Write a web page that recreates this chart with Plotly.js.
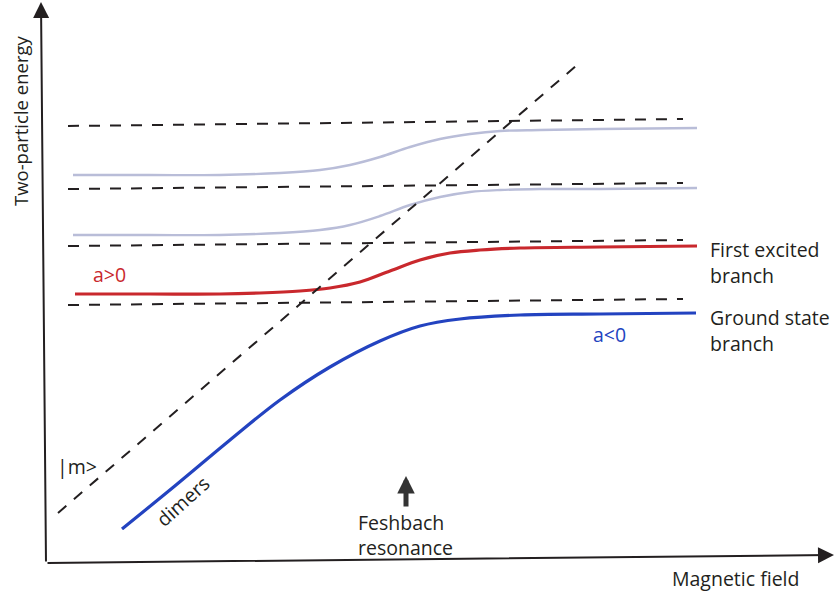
<!DOCTYPE html>
<html>
<head>
<meta charset="utf-8">
<script src="https://cdn.plot.ly/plotly-3.0.1.min.js"></script>
<style>
  html, body { margin: 0; padding: 0; background: #fff; }
  #chart { width: 836px; height: 592px; }
</style>
</head>
<body>
<div id="chart"></div>
<script>
// Schematic two-particle spectrum across a Feshbach resonance.
// Horizontal axis: magnetic field (arb. units), vertical axis: energy (arb. units).

// Unperturbed (non-interacting) trap levels, dashed: field at the two ends, energy at the two ends
const levelField = [68, 683];
const level1 = [287, 293];
const level2 = [346, 352];
const level3 = [403, 409];
const level4 = [466, 473];

// Bare molecular state |m>, dashed diagonal
const molField = [58, 577];
const molEnergy = [79, 527];

// Higher excited branches (grey)
const upperField = [73, 150, 220, 280, 320, 350, 380, 410, 440, 470, 500, 540, 600, 697];
const thirdBranch = [357, 357, 357, 359, 362, 367, 376, 387, 395, 400, 402, 403, 403, 404];
const fourthBranch = [417, 417, 417, 419, 422, 427, 435, 445, 453, 458, 461, 462, 463, 464];

// First excited branch (red)
const firstField = [75, 150, 220, 260, 300, 330, 360, 390, 420, 450, 480, 520, 600, 697];
const firstEnergy = [298, 298, 298, 299, 301, 304, 310, 321, 332, 339, 342, 344, 345, 346];

// Ground state branch (blue), dimers on the left
const groundField = [122, 176, 230, 280, 330, 380, 420, 460, 520, 600, 696];
const groundEnergy = [63, 107, 152, 192, 225, 251, 266, 273, 277, 278, 279];

const ink = '#231f20';
const dashStyle = '11px,10px';
const font = 'Open Sans, sans-serif';

function dashed(x, y) {
  return { x: x, y: y, mode: 'lines', type: 'scatter', hoverinfo: 'skip',
           line: { color: ink, width: 2, dash: dashStyle } };
}
function branch(x, y, color, width) {
  return { x: x, y: y, mode: 'lines', type: 'scatter', hoverinfo: 'skip',
           line: { color: color, width: width, shape: 'spline', smoothing: 1 } };
}

const traces = [
  dashed(levelField, level1),
  dashed(levelField, level2),
  dashed(levelField, level3),
  dashed(levelField, level4),
  branch(upperField, fourthBranch, '#b9bdd8', 2.4),
  branch(upperField, thirdBranch, '#b9bdd8', 2.4),
  branch(firstField, firstEnergy, '#c9282d', 3.2),
  branch(groundField, groundEnergy, '#2343c0', 3.2),
  dashed(molField, molEnergy)
];

function label(text, x, y, opts) {
  return Object.assign({
    text: text, x: x, y: y, xref: 'x', yref: 'y', showarrow: false,
    font: { family: font, size: 19.5, color: ink }
  }, opts || {});
}
function arrow(xTip, yTip, xTail, yTail, width, size, color) {
  return {
    text: '', x: xTip, y: yTip, ax: xTail, ay: yTail,
    xref: 'x', yref: 'y', axref: 'x', ayref: 'y',
    showarrow: true, arrowhead: 2, arrowwidth: width, arrowsize: size,
    arrowcolor: color
  };
}

const annotations = [
  // axes
  arrow(41, 590, 46, 29, 2, 1.6, ink),
  arrow(834, 37, 46, 29, 2, 1.6, ink),
  // resonance marker
  arrow(406, 116, 406, 84, 5, 0.7, '#333333'),
  label('Two-particle energy', 20, 471, { textangle: -90, font: { family: font, size: 18.5, color: ink } }),
  label('Magnetic field', 735, 14),
  label('First excited', 708, 343, { xanchor: 'left' }),
  label('branch', 708, 317, { xanchor: 'left' }),
  label('Ground state', 708, 275, { xanchor: 'left' }),
  label('branch', 708, 249, { xanchor: 'left' }),
  label('a&gt;0', 109, 318, { font: { family: font, size: 19.5, color: '#c9282d' } }),
  label('a&lt;0', 609, 258, { font: { family: font, size: 19.5, color: '#2343c0' } }),
  label('|m&gt;', 77, 126),
  label('dimers', 182, 91, { textangle: -42 }),
  label('Feshbach', 356, 70, { xanchor: 'left' }),
  label('resonance', 356, 45, { xanchor: 'left' })
];

const layout = {
  width: 836, height: 592,
  margin: { l: 0, r: 0, t: 0, b: 0 },
  paper_bgcolor: '#ffffff', plot_bgcolor: '#ffffff',
  showlegend: false,
  xaxis: { range: [0, 836], visible: false, fixedrange: true },
  yaxis: { range: [0, 592], visible: false, fixedrange: true },
  annotations: annotations
};

Plotly.newPlot('chart', traces, layout, { staticPlot: true, displayModeBar: false });
</script>
</body>
</html>
